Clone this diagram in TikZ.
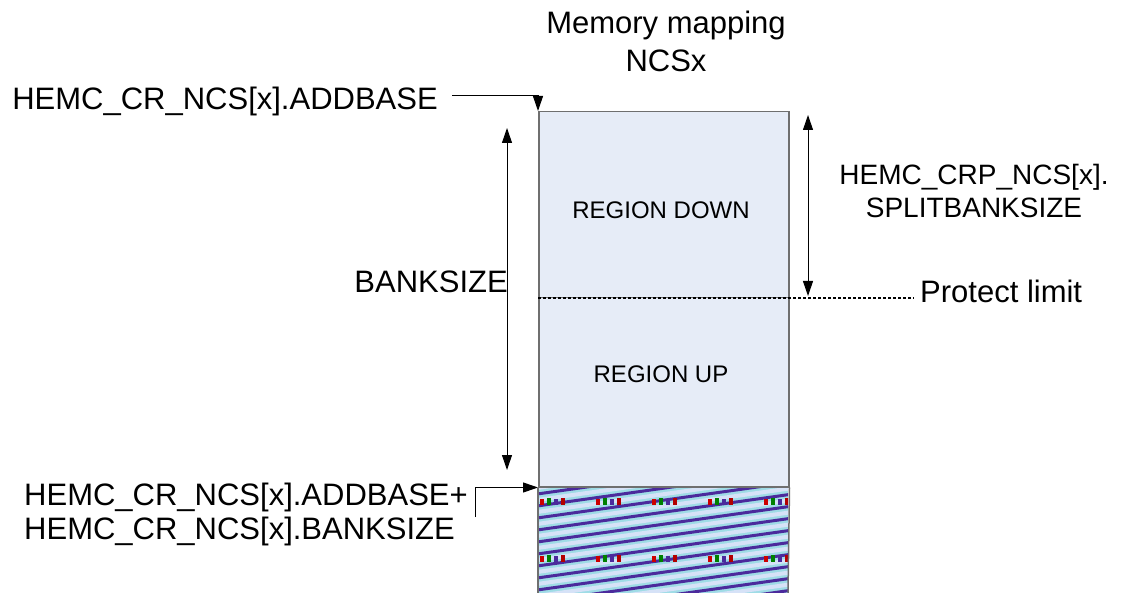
\documentclass[tikz,border=0pt]{standalone}
\usepackage{fontspec}
\setmainfont{Liberation Sans}
\usepackage{xcolor}
\usetikzlibrary{positioning,arrows.meta}

\definecolor{memfill}{HTML}{E6ECF7}
\definecolor{memedge}{HTML}{6F6F6F}
\definecolor{patcyan}{HTML}{9FDCE6}
\definecolor{patlight}{HTML}{D6E2F7}
\definecolor{patpurple}{HTML}{4B2A9C}

\begin{document}
\begin{tikzpicture}[
    x=1pt, y=-1pt,
    region/.style={rectangle, draw=memedge, line width=1.5pt, fill=memfill, minimum width=250pt, inner sep=0pt},
    small/.style={inner sep=0pt, font=\fontsize{24}{28}\selectfont},
    lbl/.style={inner sep=0pt, align=center, font=\fontsize{31}{38}\selectfont},
    arrow/.style={-{Triangle[length=15pt,width=10pt]}, line width=1pt},
    dimarrow/.style={{Triangle[length=15pt,width=10pt]}-{Triangle[length=15pt,width=10pt]}, line width=1pt}
]
    \useasboundingbox (0,0) rectangle (1121,593);

    % Title
    \node[lbl] (title) at (666,41) {Memory mapping\\NCSx};

    % Memory regions
    \node[region, minimum height=186pt, anchor=north west] (down) at (538,111) {};
    \node[region, minimum height=189pt, anchor=north west] (up) at (538,297) {};
    \node[small, anchor=base] (downlbl) at (661,219) {REGION DOWN};
    \node[small, anchor=base] (uplbl) at (661,382) {REGION UP};

    % Area beyond the bank
    \begin{scope}
        \clip (up.south west) rectangle (788,593);
        \fill[patcyan] (up.south west) rectangle (788,593);
        \foreach \k in {0,...,14} {
            \draw[patlight, line width=4pt] (530,{489+\k*12}) -- (800,{451+\k*12});
            \draw[patpurple, line width=3pt] (530,{495+\k*12}) -- (800,{457+\k*12});
        }
        \foreach \i in {0,...,4} {
            \foreach \r in {505,562} {
                \fill[red!80!black] ({540+\i*56},\r) rectangle +(4,-6);
                \fill[green!50!black] ({547+\i*56},\r) rectangle +(4,-7);
                \fill[patpurple] ({554+\i*56},\r) rectangle +(4,-6);
                \fill[red!70!black] ({561+\i*56},\r) rectangle +(4,-7);
            }
        }
    \end{scope}
    \draw[memedge, line width=1.5pt] (up.south west) -- (538,593);
    \draw[memedge, line width=1.5pt] (up.south east) -- (788,593);
    \draw[memedge, line width=1.5pt] (up.south west) -- (up.south east);

    % Protect limit
    \node[lbl, anchor=base west] (protect) at (920,303) {Protect limit};
    \draw[line width=2pt, dash pattern=on 3pt off 2pt, shorten >=6pt] (down.south west) -- (down.south west -| protect.west);

    % Base address
    \node[lbl, anchor=base east] (addbase) at (438,110) {HEMC\_CR\_NCS[x].ADDBASE};
    \draw[arrow] ([shift={(14pt,14pt)}]addbase.base east) -| (down.north west);

    % End address
    \node[lbl, align=left, anchor=north west, font=\fontsize{31}{34}\selectfont] (addend) at (24,483) {HEMC\_CR\_NCS[x].ADDBASE+\\HEMC\_CR\_NCS[x].BANKSIZE};
    \coordinate (endstart) at (475,517);
    \draw[arrow] (endstart) |- (up.south west);

    % Bank size
    \coordinate (banktop) at (507,128);
    \coordinate (bankbot) at (507,470);
    \draw[dimarrow] (banktop) -- (bankbot);
    \node[lbl, anchor=base east] (banksize) at (508,293) {BANKSIZE};

    % Split bank size
    \coordinate (splittop) at (808,115);
    \coordinate (splitbot) at (808,296);
    \draw[dimarrow] (splittop) -- (splitbot);
    \node[lbl, font=\fontsize{28}{33}\selectfont] (split) at (974,191) {HEMC\_CRP\_NCS[x].\\SPLITBANKSIZE};
\end{tikzpicture}
\end{document}
